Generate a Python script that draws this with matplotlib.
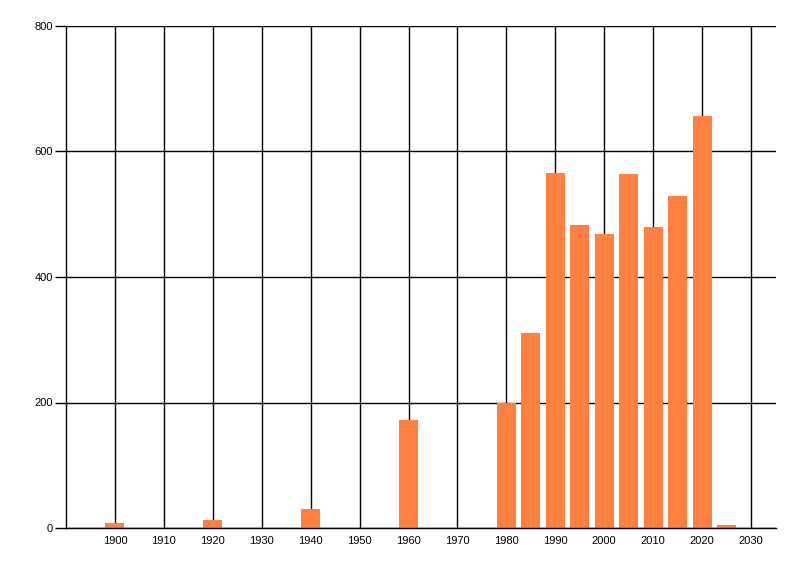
import matplotlib
matplotlib.use("Agg")
import matplotlib.pyplot as plt

years = [1900, 1920, 1940, 1960, 1980, 1985, 1990, 1995, 2000, 2005, 2010, 2015, 2020, 2025]
values = [8, 12, 30, 172, 199, 311, 566, 483, 468, 564, 480, 529, 657, 4]
x_ticks = list(range(1900, 2031, 10))
y_ticks = [0, 200, 400, 600, 800]

plt.rcParams['font.family'] = ['Liberation Sans', 'DejaVu Sans']
fig = plt.figure(figsize=(8, 5.76), dpi=100)
ax = fig.add_axes([66/800, 1-528/576, (776-66)/800, (528-26)/576])

ax.bar(years, values, width=3.9, color='#FF8040', zorder=3)

ax.set_xlim(1890, 2035.1)
ax.set_ylim(0, 800)
ax.set_xticks(x_ticks)
ax.set_yticks(y_ticks)
ax.grid(True, color='black', linewidth=1.0, zorder=0)
ax.set_axisbelow(True)
for s in ['top', 'right']:
    ax.spines[s].set_visible(False)
for s in ['left', 'bottom']:
    ax.spines[s].set_linewidth(1.0)
    ax.spines[s].set_zorder(4)
ax.tick_params(axis='x', length=0, pad=6, labelsize=8)
ax.tick_params(axis='y', length=8, width=1.0, pad=1.5, labelsize=8)

fig.savefig('out.png', dpi=100)
